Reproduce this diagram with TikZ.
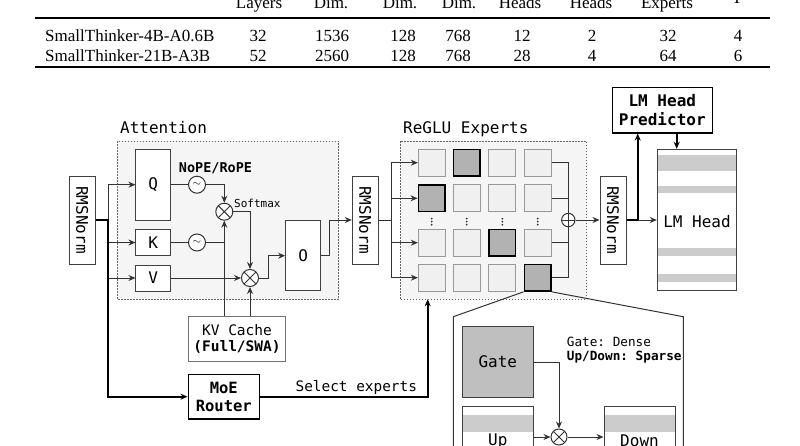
\documentclass[tikz,border=0pt]{standalone}
\usepackage{fontspec}
\setmonofont{DejaVu Sans Mono}
\newfontfamily\tabfont{Liberation Serif}
\usetikzlibrary{arrows.meta}
\tikzset{
  >={Stealth[length=7pt,width=6pt]},
  lbl/.style={font=\ttfamily\fontsize{16}{18}\selectfont},
  box/.style={draw=black!75, line width=1pt, fill=white, inner sep=0pt, font=\ttfamily\fontsize{16}{18}\selectfont},
  normbox/.style={box, rotate=-90, minimum width=88pt, minimum height=26pt},
  strongbox/.style={box, draw=black, line width=1.6pt, align=center, font=\ttfamily\bfseries\fontsize{16}{19}\selectfont},
  group/.style={draw=black!60, fill=black!4, dash pattern=on 1.5pt off 1.5pt, line width=0.8pt},
  cell/.style={draw=black!40, fill=black!6, line width=1pt, minimum size=26.7pt, inner sep=0pt},
  hot/.style={cell, draw=black, fill=black!30, line width=1.6pt},
  op/.style={circle, draw=black!80, fill=white, line width=1pt, minimum size=17pt, inner sep=0pt},
  times/.style={path picture={\draw[black!80, line width=1pt]
      (path picture bounding box.north west) -- (path picture bounding box.south east)
      (path picture bounding box.south west) -- (path picture bounding box.north east);}},
  plus/.style={path picture={\draw[black!80, line width=1pt]
      (path picture bounding box.north) -- (path picture bounding box.south)
      (path picture bounding box.west) -- (path picture bounding box.east);}},
  wire/.style={draw=black!80, line width=1pt},
  bus/.style={draw=black, line width=1.8pt},
  tab/.style={font=\tabfont\fontsize{17}{20}\selectfont, inner sep=0pt, anchor=base},
}
\begin{document}
\begin{tikzpicture}[x=1pt,y=-1pt]
\path[use as bounding box] (0,0) rectangle (800,445);
\clip (0,0) rectangle (800,445);

% table
\foreach \x/\t [count=\i] in {259/Layers,331/Dim.,400/Dim.,459/Dim.,520/Heads,591/Heads,667/Experts}
  \node[tab] (head\i) at (\x,8) {\t};
\node[tab] (head8) at (737,3.5) {T};
\draw[line width=1.4pt] (35,18) -- (770,18);
\node[tab, anchor=base west] (name1) at (45,41) {SmallThinker-4B-A0.6B};
\node[tab, anchor=base west] (name2) at (45,61.5) {SmallThinker-21B-A3B};
\foreach \x/\a/\b [count=\i] in {258/32/52,332/1536/2560,403/128/128,458/768/768,522/12/28,592/2/4,668/32/64,738/4/6}{
  \node[tab] (a\i) at (\x,41) {\a};
  \node[tab] (b\i) at (\x,61.5) {\b};
}
\draw[line width=1.6pt] (35,67) -- (770,67);

% attention
\draw[group] (117.7,141) rectangle (338.7,299.3);
\node[lbl, anchor=base west, inner sep=0pt] (attnlabel) at (120,133) {Attention};
\node[normbox] (norm1) at (82.3,220) {RMSNorm};
\node[box, minimum width=34.7pt, minimum height=70.7pt] (q) at (153.3,184.7) {Q};
\node[box, minimum width=34.7pt, minimum height=26.4pt] (k) at (153.3,242.5) {K};
\node[box, minimum width=34.7pt, minimum height=26pt] (v) at (153.3,278) {V};
\node[box, minimum width=35.3pt, minimum height=70pt] (o) at (303.3,255.7) {O};
\node[op, font=\fontsize{11}{11}\selectfont] (rq) at (197,184.7) {$\sim$};
\node[op, font=\fontsize{11}{11}\selectfont] (rk) at (197,242.5) {$\sim$};
\node[op, times] (m1) at (224.3,211.7) {};
\node[op, times] (m2) at (250,278) {};
\node[box, draw=black!55, minimum width=97.4pt, minimum height=45pt, align=center,
  font=\ttfamily\fontsize{14.5}{16}\selectfont] (kv) at (237,339.2) {KV Cache\\\textbf{(Full/SWA)}};
\node[font=\ttfamily\bfseries\fontsize{13.5}{16}\selectfont, inner sep=0pt] (ropelabel) at (215.5,168.5) {NoPE/RoPE};
\node[font=\ttfamily\fontsize{11}{13}\selectfont, anchor=west, inner sep=0pt] (smlabel) at (234,203.5) {Softmax};

\coordinate (split) at (108.3,220);
\node[strongbox, minimum width=71pt, minimum height=44.3pt, font=\ttfamily\bfseries\fontsize{15.5}{18}\selectfont] (router) at (223.8,396.7) {MoE\\Router};
\draw[wire,->] (split) |- (q);
\draw[wire,->] (split) |- (k);
\draw[wire,->] (split) |- (v);
\draw[bus,->] (norm1) -- (split) |- (router);
\draw[wire] (q) -- (rq);
\draw[wire,->] (rq) -| (m1);
\draw[wire] (k) -- (rk) -- (rk -| m1);
\draw[wire,->] (kv.north -| m1) -- (m1);
\draw[wire,->] (v) -- (m2);
\draw[wire,->] (m1) -| (m2);
\draw[wire,->] (kv.north -| m2) -- (m2);
\draw[wire,->] (m2) -- ++(18,0) |- (o);

% experts
\draw[group] (400,141) rectangle (586.5,299.3);
\node[lbl, anchor=base west, inner sep=0pt] (explabel) at (403,133) {ReGLU Experts};
\node[normbox] (norm2) at (365.3,220) {RMSNorm};
\draw[wire,->] (o) -- ++(26,0) |- (norm2);
\foreach \r/\y/\h in {1/162.7/2,2/198.3/1,3/242.7/3,4/277.7/4}
  \foreach \c/\x in {1/431.7,2/466.7,3/502.3,4/537.7}{
    \ifnum\c=\h \node[hot] (e\r\c) at (\x,\y) {};
    \else \node[cell] (e\r\c) at (\x,\y) {}; \fi
  }
\foreach \x in {431.7,466.7,502.3,537.7}
  \foreach \d in {-3,0,3}
    \fill[black!80] (\x,221.7+\d) circle (1pt);
\coordinate (fan) at (391.7,220);
\draw[wire] (norm2) -- (fan);
\foreach \r in {1,...,4}
  \draw[wire,->] (fan) |- (e\r1);
\node[op, plus, minimum size=13.4pt] (sum) at (568.3,220) {};
\foreach \r in {1,...,4}
  \draw[wire] (e\r4) -| (sum);

% head
\node[normbox] (norm3) at (613,220) {RMSNorm};
\draw[wire,->] (sum) -- (norm3);
\node[strongbox, minimum width=100pt, minimum height=45.4pt] (pred) at (662.3,110) {LM Head\\Predictor};
\node[box, minimum width=79.4pt, minimum height=141.4pt] (head) at (697,220) {};
\foreach \a/\b in {155/170.7,186/193.3,247.7/255.7,274/281.7}
  \fill[black!20] (657.8,\a) rectangle (736.2,\b);
\node[lbl] (headlabel) at (697,221.7) {LM Head};
\coordinate (tap) at (637.7,220);
\draw[bus,->] (norm3) -- (tap) -- (tap |- pred.south);
\draw[wire,->] (tap) -- (head);
\draw[bus,->] ([xshift=14.4pt]pred.south) -- ([xshift=14.4pt]pred.south |- head.north);

% router
\coordinate (sel) at (427.7,299.3);
\draw[bus,->] (router) -| (sel);
\node[font=\ttfamily\fontsize{14.4}{16}\selectfont, inner sep=0pt] (sellabel) at (356.3,387) {Select experts};

% zoom
\draw[wire] (e44.south west) -- (453.3,316.7) -- (453.3,450);
\draw[wire] (e44.south east) -- (683.3,316.7) -- (683.3,450);
\node[box, fill=black!25, minimum width=71pt, minimum height=70.6pt] (gate) at (497.8,362) {Gate};
\node[box, minimum width=71pt, minimum height=70pt] (up) at (497.8,441) {Up};
\node[box, minimum width=71pt, minimum height=70pt] (down) at (639.5,441) {Down};
\fill[black!20] (462.8,415) rectangle (532.8,431.7);
\fill[black!20] (604.5,415) rectangle (674.5,431.7);
\node[op, times, minimum size=16pt] (m3) at (559,437) {};
\draw[wire,->] (gate) -| (m3);
\draw[wire,->] (up.east |- m3) -- (m3);
\draw[wire,->] (m3) -- (down.west |- m3);
\node[font=\ttfamily\fontsize{12.7}{15}\selectfont, anchor=west, inner sep=0pt] (note1) at (566.7,341.7) {Gate: Dense};
\node[font=\ttfamily\bfseries\fontsize{12.7}{15}\selectfont, anchor=west, inner sep=0pt] (note2) at (566.7,356.7) {Up/Down: Sparse};
\end{tikzpicture}
\end{document}
